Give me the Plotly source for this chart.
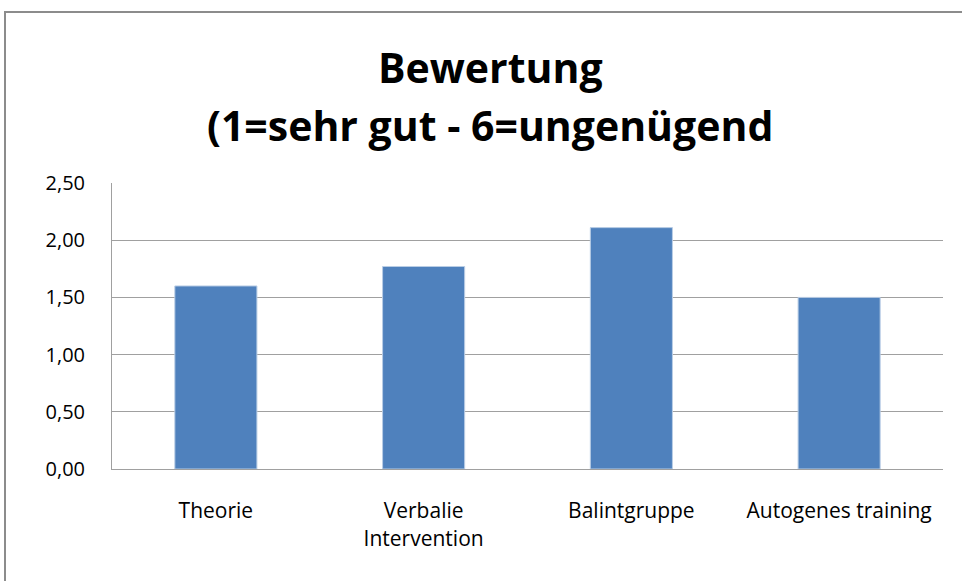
import plotly.graph_objects as go

categories = ["Theorie", "Verbalie<br>Intervention", "Balintgruppe", "Autogenes training"]
values = [1.60, 1.77, 2.11, 1.50]
tick_vals = [0, 0.5, 1.0, 1.5, 2.0, 2.5]
tick_text = ["0,00", "0,50", "1,00", "1,50", "2,00", "2,50"]
title_lines = ["Bewertung", "(1=sehr gut - 6=ungenügend"]

FONT = "Open Sans, Liberation Sans, sans-serif"

L, R, T, B = 112, 943, 183, 469
PW, PH = R - L, B - T

def px_x(x):
    return (x - L) / PW

def px_y(y):
    return (B - y) / PH

fig = go.Figure(go.Bar(
    x=categories, y=values,
    marker=dict(color="#4F81BD", line=dict(color="#B9CDE5", width=1)),
    width=0.395,
))

fig.update_layout(
    width=962, height=581,
    margin=dict(l=L, r=962 - R, t=T, b=581 - B),
    paper_bgcolor="white", plot_bgcolor="white",
    showlegend=False,
    font=dict(family=FONT, color="black"),
    xaxis=dict(
        showline=True, linecolor="#A0A0A0", linewidth=1,
        ticks="", tickfont=dict(size=21, color="black"),
        showgrid=False, ticklabelstandoff=23,
    ),
    yaxis=dict(
        range=[0, 2.5], tickvals=tick_vals, ticktext=tick_text,
        showline=True, linecolor="#A0A0A0", linewidth=1,
        showgrid=True, gridcolor="#A0A0A0", gridwidth=1,
        tickfont=dict(size=20, color="black"), ticks="",
        zeroline=False, ticklabelstandoff=22,
    ),
    annotations=[
        dict(text="<b>%s</b>" % title_lines[0], xref="paper", yref="paper",
             x=px_x(490), y=px_y(67), xanchor="center", yanchor="middle",
             showarrow=False, font=dict(family=FONT, size=41, color="black")),
        dict(text="<b>%s</b>" % title_lines[1], xref="paper", yref="paper",
             x=px_x(490), y=px_y(125), xanchor="center", yanchor="middle",
             showarrow=False, font=dict(family=FONT, size=41, color="black")),
    ],
    shapes=[dict(
        type="rect", xref="paper", yref="paper",
        x0=px_x(5), x1=px_x(975),
        y0=px_y(600), y1=px_y(12),
        line=dict(color="#8C8C8C", width=2), fillcolor="rgba(0,0,0,0)",
        layer="below",
    )],
)

fig.write_html("out.html", config={"displayModeBar": False},
               post_script="document.body.style.margin='0';")
